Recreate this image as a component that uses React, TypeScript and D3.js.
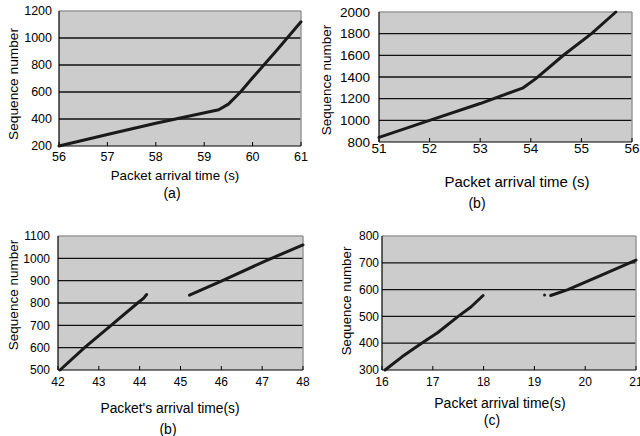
import React from "react";
import * as d3 from "d3";

// panel (a)
const aX = [56, 57, 58, 59, 60, 61];
const aY = [200, 400, 600, 800, 1000, 1200];
const aLine: [number, number][] = [
  [56, 200], [57, 285], [58, 368], [59.3, 468], [59.5, 510], [59.75, 600], [60, 705], [60.5, 910], [61, 1120],
];

// panel (b) top
const bX = [51, 52, 53, 54, 55, 56];
const bY = [800, 1000, 1200, 1400, 1600, 1800, 2000];
const bLine: [number, number][] = [
  [51, 842], [52, 1000], [53, 1155], [53.85, 1300], [54.1, 1385], [54.65, 1603], [55.2, 1800], [55.68, 2000],
];

// panel (b) bottom
const b2X = [42, 43, 44, 45, 46, 47, 48];
const b2Y = [500, 600, 700, 800, 900, 1000, 1100];
const b2Seg1: [number, number][] = [
  [42.05, 500], [42.65, 600], [43.3, 700], [43.95, 800], [44.1, 822], [44.17, 838],
];
const b2Seg2: [number, number][] = [
  [45.22, 835], [46, 898], [47.1, 990], [48, 1060],
];

// panel (c)
const cX = [16, 17, 18, 19, 20, 21];
const cY = [300, 400, 500, 600, 700, 800];
const cSeg1: [number, number][] = [
  [16.06, 300], [16.4, 350], [16.78, 400], [17.1, 440], [17.5, 500], [17.75, 535], [17.99, 578],
];
const cDot: [number, number][] = [[19.2, 580]];
const cSeg2: [number, number][] = [
  [19.32, 578], [19.66, 600], [20.3, 652], [21, 710],
];

const FONT = "'Liberation Sans', Arial, sans-serif";

type Panel = {
  box: [number, number, number, number]; // left, right, top, bottom
  xd: [number, number];
  yd: [number, number];
  xt: number[];
  yt: number[];
  lines: [number, number][][];
  dots?: [number, number][];
  xtBase: number;
  ytRight: number;
  tickSize: number;
  title: string;
  titleX: number;
  titleY: number;
  titleSize: number;
  tag: string;
  tagX: number;
  tagY: number;
  yTitleX: number;
  yTitleY: number;
  yTitleSize: number;
};

const panels: Panel[] = [
  {
    box: [59, 301, 11, 146], xd: [56, 61], yd: [200, 1200], xt: aX, yt: aY, lines: [aLine],
    xtBase: 161, ytRight: 52, tickSize: 12.5,
    title: "Packet arrival time (s)", titleX: 175, titleY: 180, titleSize: 13.3,
    tag: "(a)", tagX: 172, tagY: 198, yTitleX: 18, yTitleY: 84, yTitleSize: 13.7,
  },
  {
    box: [379, 632, 12, 142], xd: [51, 56], yd: [800, 2000], xt: bX, yt: bY, lines: [bLine],
    xtBase: 153, ytRight: 370, tickSize: 13.5,
    title: "Packet arrival time (s)", titleX: 517, titleY: 187, titleSize: 15,
    tag: "(b)", tagX: 477, tagY: 208, yTitleX: 331, yTitleY: 80, yTitleSize: 13.5,
  },
  {
    box: [58, 303, 236, 370], xd: [42, 48], yd: [500, 1100], xt: b2X, yt: b2Y, lines: [b2Seg1, b2Seg2],
    xtBase: 386, ytRight: 50, tickSize: 12,
    title: "Packet's arrival time(s)", titleX: 170, titleY: 413, titleSize: 13.8,
    tag: "(b)", tagX: 168, tagY: 434, yTitleX: 18, yTitleY: 295, yTitleSize: 13.5,
  },
  {
    box: [382, 636, 236, 370], xd: [16, 21], yd: [300, 800], xt: cX, yt: cY, lines: [cSeg1, cSeg2], dots: cDot,
    xtBase: 386, ytRight: 379, tickSize: 12,
    title: "Packet arrival time(s)", titleX: 500, titleY: 408, titleSize: 14,
    tag: "(c)", tagX: 492, tagY: 425, yTitleX: 351, yTitleY: 301, yTitleSize: 13.3,
  },
];

function ChartPanel({ p }: { p: Panel }) {
  const [l, r, t, b] = p.box;
  const x = d3.scaleLinear().domain(p.xd).range([l, r]);
  const y = d3.scaleLinear().domain(p.yd).range([b, t]);
  const line = d3.line<[number, number]>().x(d => x(d[0])).y(d => y(d[1]));
  return (
    <g fontFamily={FONT} fill="#000">
      <rect x={l} y={t} width={r - l} height={b - t} fill="#cccccc" />
      {/* gridlines */}
      {p.yt.slice(1, -1).map(v => (
        <line key={v} x1={l} x2={r} y1={y(v)} y2={y(v)} stroke="#111" strokeWidth={1.3} />
      ))}
      {/* top & right frame */}
      <line x1={l} x2={r} y1={t} y2={t} stroke="#999" strokeWidth={1.5} />
      <line x1={r} x2={r} y1={t} y2={b} stroke="#999" strokeWidth={1.5} />
      {/* axes */}
      <line x1={l} x2={r} y1={b} y2={b} stroke="#000" strokeWidth={1.2} />
      <line x1={l} x2={l} y1={t} y2={b} stroke="#000" strokeWidth={1.2} />
      {p.xt.map(v => (
        <line key={"xt" + v} x1={x(v)} x2={x(v)} y1={b} y2={b - 4} stroke="#000" strokeWidth={1} />
      ))}
      {p.lines.map((seg, i) => (
        <path key={i} d={line(seg) || ""} fill="none" stroke="#1a1a1a" strokeWidth={3} strokeLinecap="round" strokeLinejoin="round" />
      ))}
      {(p.dots || []).map((d, i) => (
        <circle key={"d" + i} cx={x(d[0])} cy={y(d[1])} r={1.5} fill="#1a1a1a" />
      ))}
      {/* tick labels */}
      {p.xt.map(v => (
        <text key={"xl" + v} x={x(v)} y={p.xtBase} fontSize={p.tickSize} textAnchor="middle">{v}</text>
      ))}
      {p.yt.map(v => (
        <text key={"yl" + v} x={p.ytRight} y={y(v)} dy="0.35em" fontSize={p.tickSize} textAnchor="end">{v}</text>
      ))}
      <text x={p.titleX} y={p.titleY} fontSize={p.titleSize} textAnchor="middle">{p.title}</text>
      <text x={p.tagX} y={p.tagY} fontSize={14} textAnchor="middle">{p.tag}</text>
      <text
        transform={`translate(${p.yTitleX},${p.yTitleY}) rotate(-90)`}
        fontSize={p.yTitleSize}
        textAnchor="middle"
      >
        Sequence number
      </text>
    </g>
  );
}

export default function App() {
  return (
    <svg
      width={640}
      height={436}
      style={{ position: "absolute", left: 0, top: 0, background: "#fff" }}
    >
      {panels.map((p, i) => <ChartPanel key={i} p={p} />)}
    </svg>
  );
}
